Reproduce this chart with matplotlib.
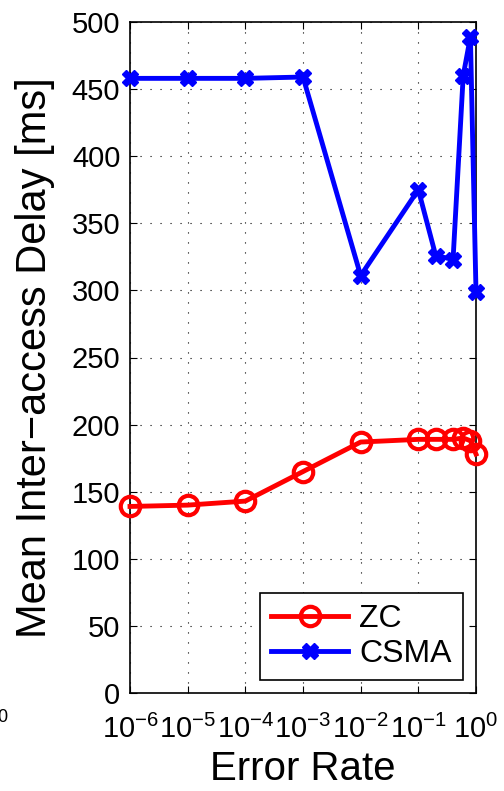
import numpy as np
import matplotlib
matplotlib.use("Agg")
import matplotlib.pyplot as plt

plt.rcParams['font.family'] = ['Liberation Sans', 'DejaVu Sans']
plt.rcParams['mathtext.fontset'] = 'custom'
plt.rcParams['mathtext.rm'] = 'Liberation Sans'

# error rate values (x axis, log)
error_rate = [1e-6, 1e-5, 1e-4, 1e-3, 1e-2, 0.1, 0.2, 0.4, 0.6, 0.8, 1.0]
# mean inter-access delay [ms]
zc_delay = [139, 140, 143, 165, 187, 189, 189, 189, 190, 188, 178]
csma_delay = [458, 458, 458, 459, 311, 375, 326, 323, 460, 489, 299]
y_ticks = list(range(0, 501, 50))

fig = plt.figure(figsize=(5.04, 7.91), dpi=100)
ax = fig.add_axes([130 / 504, 1 - 693 / 791, 346 / 504, 671 / 791])

ax.plot(error_rate, zc_delay, color='red', lw=3.5, marker='o', ms=14,
        mfc='none', mec='red', mew=3, label='ZC', clip_on=False, zorder=3)
ax.plot(error_rate, csma_delay, color='blue', lw=3.5, marker='X', ms=12,
        mfc='blue', mec='blue', label='CSMA', clip_on=False, zorder=3)

ax.set_xscale('log')
ax.set_xlim(1e-6, 1)
ax.set_ylim(0, 500)
ax.set_yticks(y_ticks)
ax.set_xticks([1e-6, 1e-5, 1e-4, 1e-3, 1e-2, 1e-1, 1])

ax.grid(True, which='major', ls=(0, (1, 8)), color='black', lw=0.8)
ax.tick_params(which='both', direction='in', top=True, right=True, labelsize=21)
ax.tick_params(axis='x', which='major', pad=16)
ax.tick_params(axis='y', which='major', pad=7)
ax.tick_params(which='major', length=5, width=0.8)
ax.tick_params(which='minor', length=3, width=0.8)
for s in ax.spines.values():
    s.set_linewidth(1.2)

ax.set_xlabel('Error Rate', fontsize=29, labelpad=4)
ax.set_ylabel('Mean Inter\u2212access Delay [ms]', fontsize=30, labelpad=12)

leg = ax.legend(loc='lower right', fontsize=23, handlelength=2.4,
                handletextpad=0.35, labelspacing=0.15, borderpad=0.35,
                fancybox=False, framealpha=1, edgecolor='black',
                bbox_to_anchor=(463 / 504, 1 - 680 / 791),
                bbox_transform=fig.transFigure, borderaxespad=0)
leg.get_frame().set_linewidth(1.2)

# fragment of the neighbouring subplot's tick label
fig.text(-0.006, 1 - 722 / 791, '0', fontsize=13)

fig.savefig('out.png', dpi=100)
